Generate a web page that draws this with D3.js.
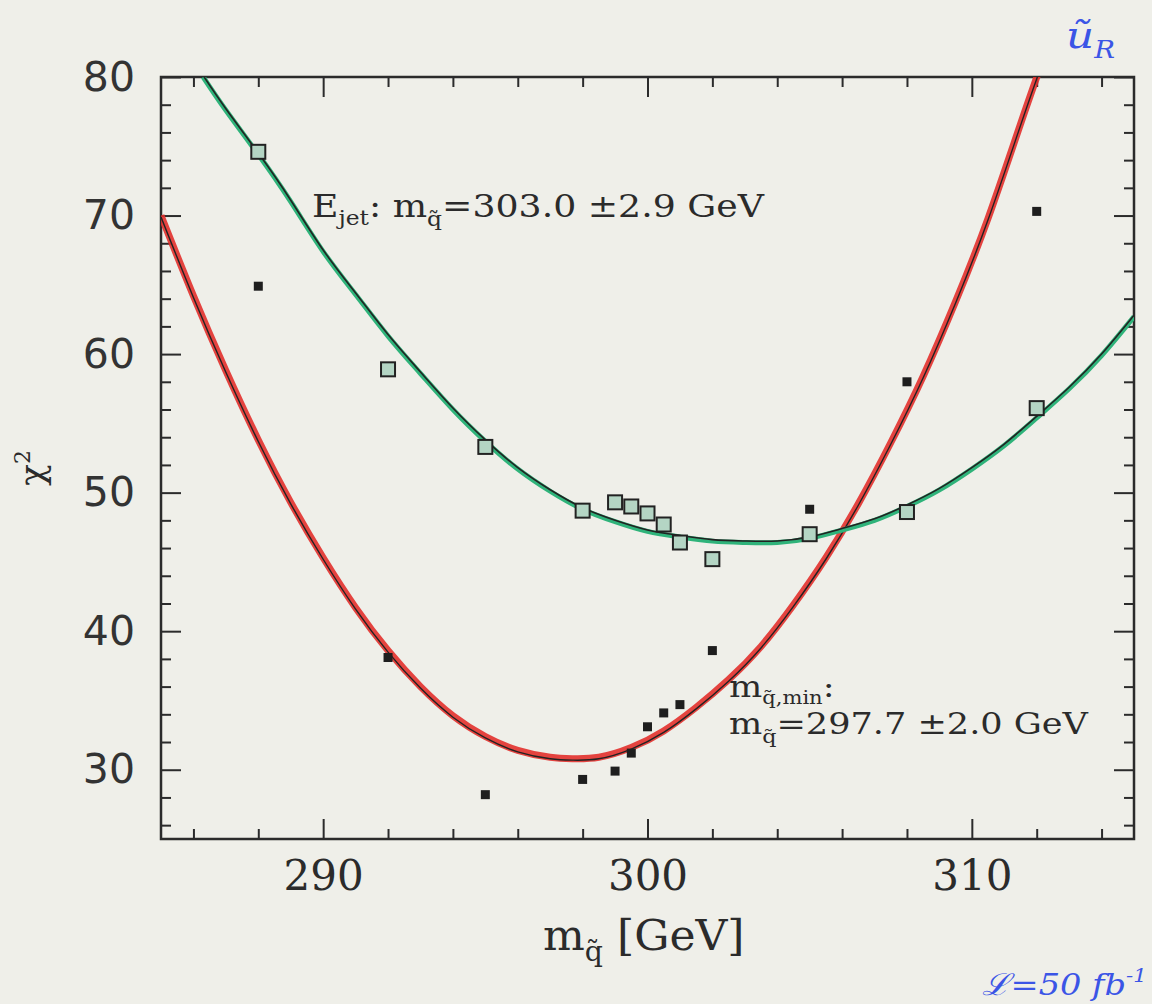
<!DOCTYPE html>
<html>
<head>
<meta charset="utf-8">
<script src="https://cdn.jsdelivr.net/npm/d3@7"></script>
<style>
  body { margin: 0; background: #efefe9; }
  svg { display: block; }
  text { white-space: pre; }
</style>
</head>
<body>
<script>
// axis ticks
const massMajor = [290, 300, 310];
const massMinor = [286, 288, 292, 294, 296, 298, 302, 304, 306, 308, 312, 314];
const chi2Major = [30, 40, 50, 60, 70, 80];
const chi2Minor = [26, 28, 32, 34, 36, 38, 42, 44, 46, 48, 52, 54, 56, 58, 62, 64, 66, 68, 72, 74, 76, 78];

// E_jet points (open squares)
const ejetMass = [288, 292, 295, 298, 299, 299.5, 300, 300.5, 301, 302, 305, 308, 312];
const ejetChi2 = [74.6, 58.9, 53.3, 48.7, 49.3, 49.0, 48.5, 47.7, 46.4, 45.2, 47.0, 48.6, 56.1];

// m_min points (filled squares)
const mminMass = [288, 292, 295, 298, 299, 299.5, 300, 300.5, 301, 302, 305, 308, 312];
const mminChi2 = [64.9, 38.1, 28.2, 29.3, 29.9, 31.2, 33.1, 34.1, 34.7, 38.6, 48.8, 58.0, 70.3];

// fitted curves
const ejetFitMass = [286.3, 287, 288, 289, 290, 291, 292, 293, 294, 295, 296, 297, 298, 299, 300, 301, 302, 303, 304, 305, 306, 307, 308, 309, 310, 311, 312, 313, 314, 315];
const ejetFitChi2 = [80.0, 77.6, 74.4, 71.0, 67.4, 64.3, 61.3, 58.6, 56.0, 53.7, 51.7, 50.1, 48.8, 47.9, 47.2, 46.8, 46.5, 46.4, 46.4, 46.7, 47.3, 48.0, 49.0, 50.2, 51.7, 53.4, 55.4, 57.5, 59.9, 62.7];

const mminFitMass = [285, 286, 287, 288, 289, 290, 291, 292, 293, 294, 295, 296, 297, 297.7, 298.5, 299.5, 300.5, 301.5, 302.5, 303.5, 304.5, 305.5, 306.5, 307.5, 308.5, 309.5, 310.5, 311.5, 312.2];
const mminFitChi2 = [70.0, 64.2, 58.8, 53.8, 49.3, 45.3, 41.7, 38.6, 36.0, 33.9, 32.4, 31.4, 30.9, 30.8, 30.9, 31.6, 32.8, 34.5, 36.5, 38.9, 41.9, 45.3, 49.2, 53.6, 58.4, 63.8, 69.8, 76.6, 81.3];

const W = 1152, H = 1004;
const ink = '#2b2b2b';

const svg = d3.select('body').append('svg')
    .attr('width', W)
    .attr('height', H);

svg.append('rect').attr('width', W).attr('height', H).attr('fill', '#efefe9');

const x = d3.scaleLinear().domain([285, 315]).range([161, 1134]);
const y = d3.scaleLinear().domain([25, 80]).range([839, 77]);

svg.append('clipPath').attr('id', 'plot')
  .append('rect')
    .attr('x', x(285)).attr('y', y(80))
    .attr('width', x(315) - x(285)).attr('height', y(25) - y(80));

// ticks on all four sides, pointing inward
function ticks(axis, tr, values, size, labels) {
    const g = svg.append('g')
        .attr('transform', tr)
        .call(axis.tickValues(values).tickSize(size).tickFormat(labels ? d3.format('d') : ''));
    g.select('.domain').remove();
    g.selectAll('line').attr('stroke', ink).attr('stroke-width', 2);
    return g;
}

const bottom = ticks(d3.axisBottom(x).tickPadding(21), `translate(0,${y(25)})`, massMajor, -20, true);
ticks(d3.axisBottom(x), `translate(0,${y(25)})`, massMinor, -10, false);
ticks(d3.axisTop(x), `translate(0,${y(80)})`, massMajor, -20, false);
ticks(d3.axisTop(x), `translate(0,${y(80)})`, massMinor, -10, false);
const left = ticks(d3.axisLeft(y).tickPadding(26), `translate(${x(285)},0)`, chi2Major, -20, true);
ticks(d3.axisLeft(y), `translate(${x(285)},0)`, chi2Minor, -10, false);
ticks(d3.axisRight(y), `translate(${x(315)},0)`, chi2Major, -20, false);
ticks(d3.axisRight(y), `translate(${x(315)},0)`, chi2Minor, -10, false);

bottom.selectAll('text')
    .attr('font-family', 'DejaVu Serif')
    .attr('font-size', 42)
    .attr('fill', ink);
left.selectAll('text')
    .attr('font-family', 'DejaVu Sans')
    .attr('font-size', 41)
    .attr('fill', '#333');

// frame
svg.append('rect')
    .attr('x', x(285)).attr('y', y(80))
    .attr('width', x(315) - x(285)).attr('height', y(25) - y(80))
    .attr('fill', 'none')
    .attr('stroke', ink)
    .attr('stroke-width', 2.5);

// fit curves: coloured marker band with the black fit line on it
const line = d3.line()
    .x(d => x(d[0]))
    .y(d => y(d[1]))
    .curve(d3.curveNatural);

const curves = svg.append('g').attr('clip-path', 'url(#plot)');

const mminFit = mminFitMass.map((m, i) => [m, mminFitChi2[i]]);
const ejetFit = ejetFitMass.map((m, i) => [m, ejetFitChi2[i]]);

curves.append('path')
    .attr('d', line(mminFit))
    .attr('fill', 'none')
    .attr('stroke', '#e2302c')
    .attr('stroke-width', 7)
    .attr('stroke-opacity', 0.9);
curves.append('path')
    .attr('d', line(mminFit))
    .attr('transform', 'translate(0,1.5)')
    .attr('fill', 'none')
    .attr('stroke', '#222')
    .attr('stroke-width', 1.4);

curves.append('path')
    .attr('d', line(ejetFit))
    .attr('fill', 'none')
    .attr('stroke', '#2fb37a')
    .attr('stroke-width', 5);
curves.append('path')
    .attr('d', line(ejetFit))
    .attr('transform', 'translate(0,-1.5)')
    .attr('fill', 'none')
    .attr('stroke', '#222')
    .attr('stroke-width', 1.6);

// data points
svg.append('g').selectAll('rect')
    .data(ejetMass.map((m, i) => [m, ejetChi2[i]]))
    .join('rect')
    .attr('x', d => x(d[0]) - 7)
    .attr('y', d => y(d[1]) - 7)
    .attr('width', 14)
    .attr('height', 14)
    .attr('fill', '#b4d5c4')
    .attr('stroke', '#222')
    .attr('stroke-width', 2);

svg.append('g').selectAll('rect')
    .data(mminMass.map((m, i) => [m, mminChi2[i]]))
    .join('rect')
    .attr('x', d => x(d[0]) - 4.5)
    .attr('y', d => y(d[1]) - 4.5)
    .attr('width', 9)
    .attr('height', 9)
    .attr('fill', '#1e1e1e');

// text with sub/superscripts: parts = [text, shift, size]
function mathText(px, py, sx, size, parts, opts = {}) {
    const g = svg.append('g').attr('transform', `translate(${px},${py}) scale(${sx},1)`);
    const t = g.append('text')
        .attr('font-family', opts.family || 'DejaVu Serif')
        .attr('font-style', opts.italic ? 'italic' : 'normal')
        .attr('font-size', size)
        .attr('fill', opts.fill || ink);
    let cur = 0;
    parts.forEach(([s, shift, sz]) => {
        t.append('tspan')
            .attr('dy', shift - cur)
            .attr('font-size', sz || size)
            .text(s);
        cur = shift;
    });
    return g;
}

mathText(312, 217, 1.17, 31, [['E', 0], ['jet', 8, 20], [': m', 0], ['q̃', 9, 20], ['=303.0 ±2.9 GeV', 0]]);
mathText(729, 697, 1.17, 30, [['m', 0], ['q̃,min', 7, 18], [':', 0]]);
mathText(729, 734, 1.17, 30, [['m', 0], ['q̃', 9, 19], ['=297.7 ±2.0 GeV', 0]]);

// axis titles
mathText(543, 950, 1.05, 42, [['m', 0], ['q̃', 11, 27], [' [GeV]', 0]]);

const yt = svg.append('g').attr('transform', 'translate(44,468) rotate(-90)');
yt.append('text')
    .attr('text-anchor', 'middle')
    .attr('font-family', 'DejaVu Serif')
    .attr('font-size', 36)
    .attr('fill', ink)
    .call(t => {
        t.append('tspan').text('χ');
        t.append('tspan').attr('dy', -14).attr('font-size', 22).text('2');
    });

// handwritten notes
mathText(1066, 48, 1.15, 38, [['ũ', 0], ['R', 10, 24]], { italic: true, fill: '#3b55e6' });
mathText(982, 995, 1.12, 30, [['ℒ=50 fb', 0], ['-1', -13, 19]], { italic: true, fill: '#3b55e6' });
</script>
</body>
</html>
